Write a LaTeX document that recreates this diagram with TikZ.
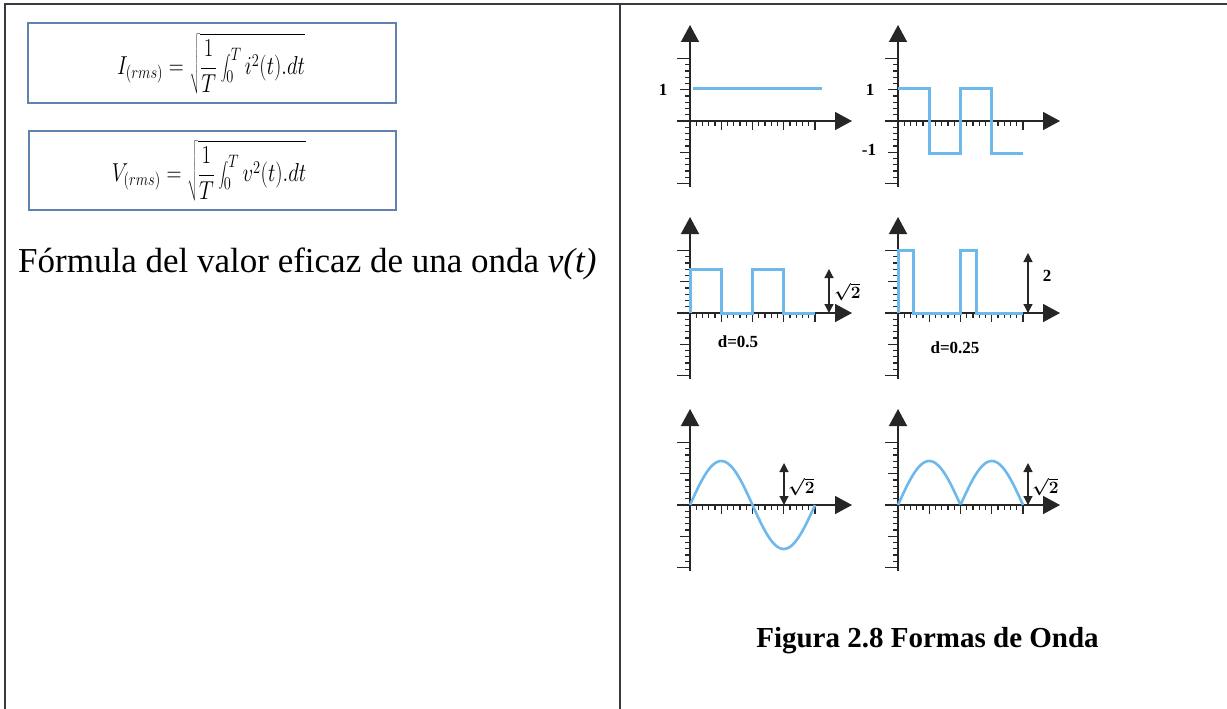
\documentclass[tikz,border=0pt]{standalone}
\usepackage{fontspec}
\setmainfont{Liberation Serif}
\usetikzlibrary{arrows.meta}
\definecolor{wave}{RGB}{110,185,235}
\definecolor{boxc}{RGB}{95,130,175}
\definecolor{rule}{RGB}{60,55,65}
\tikzset{
  frame/.style={draw=rule, line width=1.6pt},
  fbox/.style={draw=boxc, line width=1.5pt},
  axis/.style={draw=black!85, line width=1.5pt},
  tick/.style={draw=black!85, line width=1.1pt},
  wline/.style={draw=wave, line width=3pt, line join=miter},
  dim/.style={draw=black!85, line width=1.2pt, {Triangle[length=9pt,width=9pt]}-{Triangle[length=9pt,width=9pt]}},
  glabel/.style={font=\fontsize{17}{17}\selectfont\bfseries\boldmath, inner sep=0pt},
  rlabel/.style={font=\fontsize{17}{17}\selectfont\bfseries\boldmath, inner sep=0pt},
}
\newcommand{\graxes}[2]{%
  \begin{scope}[shift={(#1,#2)}]
    \foreach \k in {-10,...,10}{%
      \pgfmathsetmacro\len{ifthenelse(mod(abs(\k),5)==0,ifthenelse(abs(\k)==10,13,10),5)}
      \draw[tick] (0,\k*6.25) -- ++(-\len,0);
    }
    \foreach \k in {1,...,20}{%
      \pgfmathsetmacro\len{ifthenelse(mod(\k,5)==0,9,5)}
      \draw[tick] (\k*6.25,0) -- ++(0,\len);
    }
    \draw[axis,-{Triangle[length=17pt,width=18pt]}] (0,66) -- (0,-96);
    \draw[axis,-{Triangle[length=17pt,width=18pt]}] (-13,0) -- (162,0);
  \end{scope}}
\begin{document}
\begin{tikzpicture}[x=1pt,y=-1pt]
\useasboundingbox (0,0) rectangle (1227,709);
\fill[white] (0,0) rectangle (1227,709);
% table frame
\coordinate (tl) at (5,4);
\coordinate (tr) at (1227,4);
\coordinate (bl) at (5,709);
\coordinate (tm) at (620,4);
\coordinate (bm) at (620,709);
\draw[frame] (tr) -- (tl) -- (bl);
\draw[frame] (tm) -- (bm);
% formula boxes
\node[fbox, minimum width=368pt, minimum height=80pt, inner sep=0pt] (box1) at (212,63) {};
\node[fbox, minimum width=367pt, minimum height=79pt, inner sep=0pt] (box2) at (212.5,170.5) {};
\node[font=\fontsize{22}{22}\selectfont, inner sep=0pt] (f1) at (211,64)
  {\scalebox{1}[1.25]{$\displaystyle I_{(rms)}=\sqrt{\frac{1}{T}\int_0^T i^2(t).dt}$}};
\node[font=\fontsize{22}{22}\selectfont, inner sep=0pt] (f2) at (209,171)
  {\scalebox{1}[1.25]{$\displaystyle V_{(rms)}=\sqrt{\frac{1}{T}\int_0^T v^2(t).dt}$}};
\node[anchor=base west, font=\fontsize{35}{35}\selectfont, inner sep=0pt] (desc) at (18,272)
  {Fórmula del valor eficaz de una onda \textit{v(t)}};
% graphs
\graxes{690}{121}
\graxes{898}{121}
\graxes{690}{313}
\graxes{898}{313}
\graxes{690}{505}
\graxes{898}{505}
% graph 1: constant
\draw[wline] (693,89) -- (822,89);
\node[glabel] (l1a) at (663,90) {1};
% graph 2: square +-1
\draw[wline] (898,89) -- (929.25,89) -- (929.25,153) -- (960.5,153) -- (960.5,89) -- (991.75,89) -- (991.75,153) -- (1023,153);
\node[glabel] (l2a) at (870,90) {1};
\node[glabel] (l2b) at (869,150) {-1};
% graph 3: pulse d=0.5
\draw[wline] (690,313) -- (690,269) -- (721.25,269) -- (721.25,313) -- (752.5,313) -- (752.5,269) -- (783.75,269) -- (783.75,313) -- (815,313);
\coordinate (d3a) at (829,313);
\coordinate (d3b) at (829,269);
\draw[dim] (d3a) -- (d3b);
\node[rlabel, anchor=west] (l3) at (834,292) {$\sqrt{2}$};
\node[glabel] (l3d) at (738,342) {d=0.5};
% graph 4: pulse d=0.25
\draw[wline] (898,313) -- (898,250.5) -- (913.6,250.5) -- (913.6,313) -- (960.5,313) -- (960.5,250.5) -- (976.1,250.5) -- (976.1,313) -- (1023,313);
\coordinate (d4a) at (1028,313);
\coordinate (d4b) at (1028,253);
\draw[dim] (d4a) -- (d4b);
\node[glabel] (l4) at (1047,276) {2};
\node[glabel] (l4d) at (955,348) {d=0.25};
% graph 5: sine
\draw[wline, line width=2.6pt, smooth] plot[domain=0:125, samples=60] ({690+\x}, {505-44*sin(\x/125*360)});
\coordinate (d5a) at (784,505);
\coordinate (d5b) at (784,463);
\draw[dim] (d5a) -- (d5b);
\node[rlabel, anchor=west] (l5) at (788,487) {$\sqrt{2}$};
% graph 6: rectified sine
\draw[wline, line width=2.6pt] plot[domain=0:125, samples=80] ({898+\x}, {505-44*abs(sin(\x/125*360))});
\coordinate (d6a) at (1028,505);
\coordinate (d6b) at (1028,463);
\draw[dim] (d6a) -- (d6b);
\node[rlabel, anchor=west] (l6) at (1032,487) {$\sqrt{2}$};
% caption
\node[font=\fontsize{29}{29}\selectfont\bfseries, inner sep=0pt, anchor=base] (cap) at (927.5,647) {Figura 2.8 Formas de Onda};
\end{tikzpicture}
\end{document}
